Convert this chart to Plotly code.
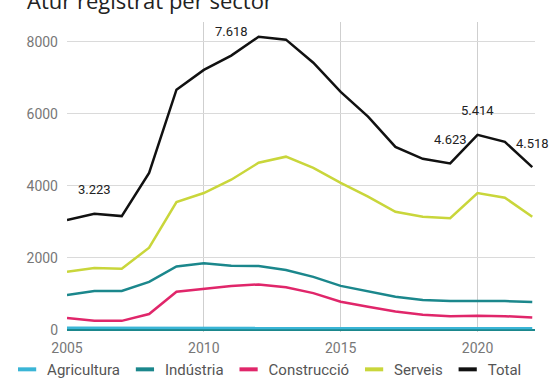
import plotly.graph_objects as go

years = list(range(2005, 2023))
agricultura = [55, 55, 55, 55, 60, 60, 60, 60, 60, 60, 55, 55, 55, 50, 50, 55, 55, 50]
industria = [970, 1080, 1080, 1330, 1760, 1850, 1780, 1770, 1660, 1470, 1220, 1060, 920, 830, 800, 800, 800, 770]
construccio = [330, 250, 250, 440, 1060, 1150, 1220, 1260, 1180, 1020, 780, 640, 510, 420, 380, 390, 380, 340]
serveis = [1610, 1720, 1700, 2280, 3550, 3800, 4170, 4640, 4810, 4500, 4080, 3700, 3280, 3140, 3100, 3800, 3670, 3140]
total = [3050, 3223, 3160, 4360, 6670, 7220, 7618, 8140, 8060, 7420, 6610, 5920, 5080, 4750, 4623, 5414, 5220, 4518]

series_names = ["Agricultura", "Indústria", "Construcció", "Serveis", "Total"]
series_colors = ["#3ab5d6", "#1b878c", "#e0266a", "#c9d63b", "#111111"]
series_values = [agricultura, industria, construccio, serveis, total]

label_years = [2006, 2011, 2019, 2020, 2022]
label_texts = ["3.223", "7.618", "4.623", "5.414", "4.518"]

fig = go.Figure()
for name, color, vals in zip(series_names, series_colors, series_values):
    fig.add_trace(go.Scatter(x=years, y=vals, mode="lines", name=name,
                             line=dict(color=color, width=2.5),
                             showlegend=False, hoverinfo="skip"))
for name, color in zip(series_names, series_colors):
    fig.add_trace(go.Scatter(x=[None], y=[None], mode="markers", name=name,
                             marker=dict(symbol="line-ew-open", size=13, color=color,
                                         line=dict(color=color, width=4))))

for yr, txt in zip(label_years, label_texts):
    fig.add_annotation(x=yr, y=total[years.index(yr)], text=txt, showarrow=False,
                       yshift=24, font=dict(family="Roboto", size=13, color="#222"))

fig.add_annotation(xref="paper", yref="paper", x=-0.09, y=1.0153, xanchor="left",
                   yanchor="bottom", text="Atur registrat per sector", showarrow=False,
                   font=dict(family="Open Sans", size=22, color="#222"))

fig.update_layout(
    width=553, height=380,
    margin=dict(l=67, r=18, t=22, b=48, autoexpand=False),
    paper_bgcolor="white", plot_bgcolor="white",
    font=dict(family="Roboto", color="#777"),
    xaxis=dict(range=[2005, 2022.1], tickvals=[2005, 2010, 2015, 2020],
               showgrid=True, gridcolor="#cfcfcf", gridwidth=1, zeroline=False,
               showline=False, ticks="", tickfont=dict(size=14, color="#777"),
               ticklabelstandoff=6, automargin=False),
    yaxis=dict(range=[-60, 8550], tickvals=[0, 2000, 4000, 6000, 8000],
               showgrid=True, gridcolor="#dadada", gridwidth=1,
               zeroline=True, zerolinecolor="#1b878c", zerolinewidth=2,
               showline=False, ticks="", tickfont=dict(size=14, color="#777"),
               ticklabelstandoff=8, automargin=False),
    legend=dict(orientation="h", xref="paper", yref="paper",
                x=-0.128, y=-0.068, xanchor="left", yanchor="top",
                font=dict(family="Roboto", size=15, color="#555"),
                itemwidth=30, tracegroupgap=0),
    showlegend=True,
)

fig.write_html("out.html", config={"displayModeBar": False},
               post_script="document.body.style.margin='0';document.body.style.overflow='hidden';")
